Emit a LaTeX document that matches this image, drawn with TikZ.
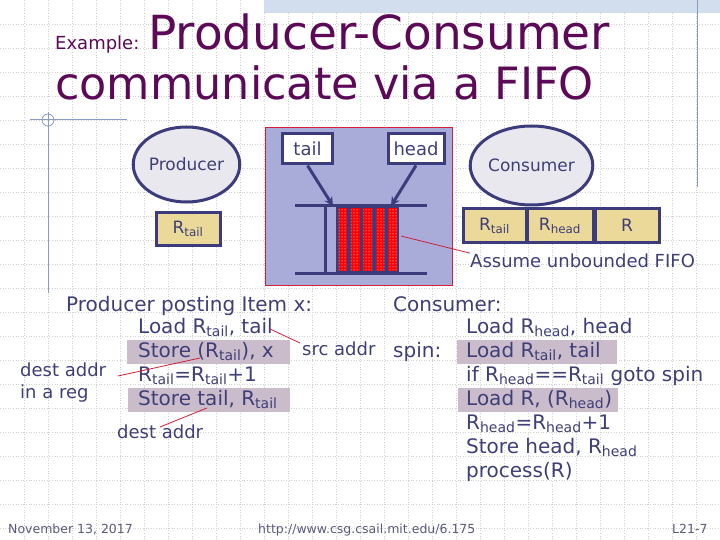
\documentclass[tikz,border=0pt]{standalone}
\usepackage{fontspec}
\setmainfont{DejaVu Sans}
\usetikzlibrary{shapes.geometric,arrows.meta,patterns}
\definecolor{navy}{HTML}{3C3C7C}
\definecolor{txt}{HTML}{3F3F78}
\definecolor{ttl}{HTML}{5C0A58}
\definecolor{hl}{HTML}{CBBCCB}
\definecolor{tanb}{HTML}{EBD999}
\definecolor{fifobg}{HTML}{A9ACD9}
\definecolor{ell}{HTML}{E8E8EE}
\definecolor{band}{HTML}{D2DDEE}
\definecolor{deco}{HTML}{8A9AC4}
\definecolor{gridc}{HTML}{D0D0D0}
\definecolor{redl}{HTML}{D0203A}
\definecolor{foot}{HTML}{5A5A80}
\newcommand{\fs}[1]{\fontsize{#1}{#1}\selectfont}
\newcommand{\sbs}[1]{\textsubscript{#1}}
\begin{document}
\begin{tikzpicture}[x=1pt,y=-1pt,
  gridline/.style={gridc,dotted,line width=0.6pt},
  txtl/.style={anchor=base west,inner sep=0pt,text=txt},
  code/.style={txtl,font=\fs{20}},
  note/.style={txtl,font=\fs{18}},
  ttlt/.style={anchor=base west,inner sep=0pt,text=ttl},
  proc/.style={ellipse,draw=navy,line width=3pt,fill=ell,text=txt,font=\fs{17},inner sep=0pt},
  reg/.style={draw=navy,line width=3pt,fill=tanb,text=txt,font=\fs{17},inner sep=0pt,minimum height=32pt},
  ptr/.style={draw=navy,line width=3pt,fill=white,text=txt,font=\fs{18},inner sep=0pt,minimum height=30pt},
  hlbox/.style={fill=hl},
  redline/.style={redl,line width=0.8pt},
  footer/.style={anchor=base west,inner sep=0pt,text=foot,font=\fs{12.5}},
  fifoline/.style={navy,line width=3pt},
  ptrarrow/.style={navy,line width=3pt,-{Stealth[length=9pt,width=9pt]}}
]
\useasboundingbox (0,0) rectangle (720,540);
\fill[white] (0,0) rectangle (720,540);
% grid
\foreach \i in {1,...,29} \draw[gridline] (\i*24,0) -- (\i*24,540);
\foreach \j in {1,...,22} \draw[gridline] (0,\j*24) -- (720,\j*24);
% top band and decorations
\fill[band] (264,0) rectangle (720,13);
\draw[deco,line width=1pt] (697,0) -- (697,187);
\draw[deco,line width=1pt] (30,120) -- (127,120);
\draw[deco,line width=1pt] (48,112) -- (48,293);
\draw[deco,line width=0.8pt] (48,120) circle (6);
% title
\node[ttlt,font=\fs{18}] (ex) at (55,50) {Example:};
\node[ttlt,font=\fs{47}] (t1) at (148,50) {Producer-Consumer};
\node[ttlt,font=\fs{44.5}] (t2) at (55,100) {communicate via a FIFO};
% producer
\node[proc,minimum width=93pt,minimum height=75pt] (prod) at (186.5,164.5) {Producer};
\node[reg,minimum width=64pt] (prt) at (188,229) {R\sbs{tail}};
% fifo
\draw[redl,line width=0.8pt,fill=fifobg] (265,127) rectangle (452,285);
\node[ptr,minimum width=50pt] (tailb) at (307.5,149) {tail};
\node[ptr,minimum width=56pt] (headb) at (416,149) {head};
\coordinate (tailtip) at (333,206);
\coordinate (headtip) at (391,206);
\draw[fifoline] (295,206) -- (427,206);
\draw[fifoline] (295,273) -- (427,273);
\draw[fifoline] (325,206) -- (325,273);
\fill[navy] (336,206) rectangle (399,273);
\foreach \k in {0,...,4}
  \fill[red,postaction={pattern=dots,pattern color=white}] (338.6+\k*12.3,208.5) rectangle (347.4+\k*12.3,270.5);
\coordinate (fifo) at (401,236);
\draw[ptrarrow] (tailb.south) -- (tailtip);
\draw[ptrarrow] (headb.south) -- (headtip);
% consumer
\node[proc,minimum width=97pt,minimum height=79pt] (cons) at (531.5,165.5) {Consumer};
\node[reg,minimum width=63pt,minimum height=33pt] (crt) at (494.5,225.5) {R\sbs{tail}};
\node[reg,minimum width=66pt,minimum height=33pt] (crh) at (560,225.5) {R\sbs{head}};
\node[reg,minimum width=64pt,minimum height=33pt] (cr) at (627,225.5) {R};
\node[note] (assume) at (470,267) {Assume unbounded FIFO};
\draw[redline] (fifo) -- (assume.north west);
% highlights
\fill[hlbox] (127,340) rectangle (290,363.5);
\fill[hlbox] (128,387.5) rectangle (290,411.5);
\fill[hlbox] (457,339.5) rectangle (617,363.5);
\fill[hlbox] (458,387.5) rectangle (618,411.5);
% producer code
\node[code] (pp) at (66,311) {Producer posting Item x:};
\node[code] (p1) at (138,333) {Load R\sbs{tail}, tail};
\node[code] (p2) at (138,357) {Store (R\sbs{tail}), x};
\node[code] (p3) at (138,381) {R\sbs{tail}=R\sbs{tail}+1};
\node[code] (p4) at (138,405) {Store tail, R\sbs{tail}};
\node[note] (da1) at (20,376) {dest addr};
\node[note] (da2) at (20,398) {in a reg};
\node[note] (da3) at (117,438) {dest addr};
\node[note] (src) at (302,355) {src addr};
\coordinate (r1a) at (118,376);
\coordinate (r1b) at (200,358);
\coordinate (r2a) at (160,427);
\coordinate (r2b) at (207,408);
\coordinate (r3a) at (270,329);
\coordinate (r3b) at (300,343);
\draw[redline] (r1a) -- (r1b);
\draw[redline] (r2a) -- (r2b);
\draw[redline] (r3a) -- (r3b);
% consumer code
\node[code] (cc) at (393,311) {Consumer:};
\node[code] (spin) at (393,357) {spin:};
\node[code] (c1) at (466,333) {Load R\sbs{head}, head};
\node[code] (c2) at (466,357) {Load R\sbs{tail}, tail};
\node[code] (c3) at (466,381) {if R\sbs{head}==R\sbs{tail} goto spin};
\node[code] (c4) at (466,405) {Load R, (R\sbs{head})};
\node[code] (c5) at (466,429) {R\sbs{head}=R\sbs{head}+1};
\node[code] (c6) at (466,453) {Store head, R\sbs{head}};
\node[code] (c7) at (466,477) {process(R)};
% footer
\node[footer] (date) at (8,533) {November 13, 2017};
\node[footer] (url) at (258,533) {http://www.csg.csail.mit.edu/6.175};
\node[footer] (pg) at (672,533) {L21-7};
\end{tikzpicture}
\end{document}
